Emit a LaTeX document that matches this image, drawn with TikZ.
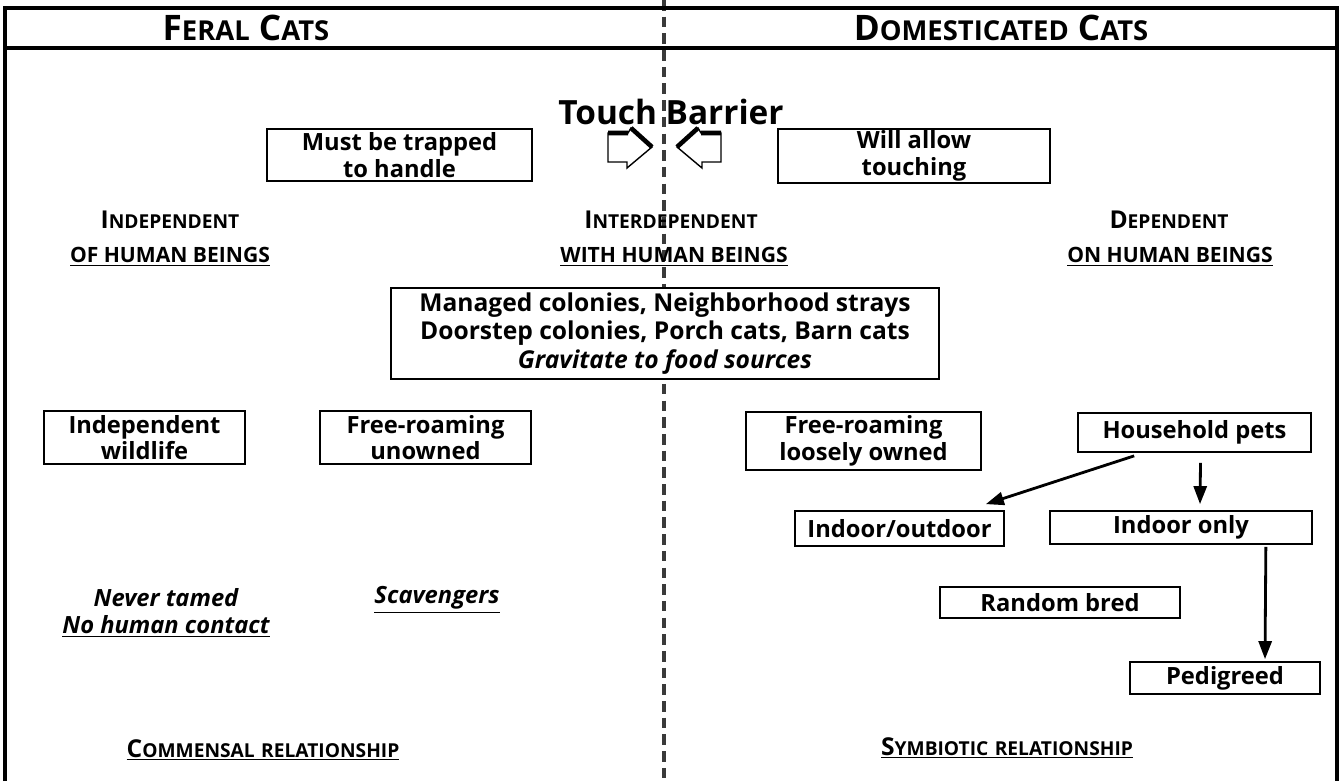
\documentclass[tikz,border=0pt]{standalone}
\usepackage{fontspec}
\setmainfont{Open Sans}
\usepackage{graphicx}
\usetikzlibrary{arrows.meta,calc,positioning}
\definecolor{ink}{HTML}{000000}
\definecolor{divider}{HTML}{3A3A3A}
% fake small caps: big first letter, scaled rest
\newcommand{\smc}[2]{#1\scalebox{0.78}{#2}}
\tikzset{
    % Outer frame
    frame line/.style={line width=2pt, draw=ink},
    % Boxed categories
    catbox/.style={
        rectangle,
        draw=ink,
        fill=white,
        line width=1pt,
        inner sep=0pt,
        align=center,
        font=\fontsize{13.5}{15}\selectfont\bfseries
    },
    % Column titles in the header row
    title text/.style={font=\fontsize{20}{22}\selectfont\bfseries},
    % Relation headings
    relation/.style={font=\fontsize{14}{16}\selectfont\bfseries},
    relation sub/.style={font=\fontsize{12}{14}\selectfont\bfseries},
    % Italic notes
    note text/.style={font=\fontsize{13.5}{15.5}\selectfont\bfseries\itshape, align=center},
    % Connectors
    flow/.style={-{Triangle[length=3.6mm, width=2.6mm]}, line width=1.6pt, draw=ink},
    % Dashed split line
    barrier/.style={draw=divider, line width=1.8pt, dash pattern=on 6pt off 3.5pt},
    % Block arrows at the touch barrier
    block arrow/.style={draw=ink, fill=white, line width=0.8pt, line join=miter},
    block edge/.style={draw=ink, line width=2.6pt}
}
\begin{document}
\begin{tikzpicture}[x=0.02cm, y=-0.02cm]
    \useasboundingbox (0,0) rectangle (1341,781);

    % Dashed barrier down the middle
    \coordinate (bartop) at (664,0);
    \coordinate (barbot) at (664,781);
    \draw[barrier] (bartop) -- (barbot);

    % Frame and header row
    \draw[frame line] (5,781) -- (5,8) -- (1337,8) -- (1337,781);
    \draw[frame line] (5,48) -- (1337,48);
    \node[title text] (feral) at (246,28) {\smc{F}{ERAL} \smc{C}{ATS}};
    \node[title text] (domestic) at (1001,28) {\smc{D}{OMESTICATED} \smc{C}{ATS}};

    % Touch barrier
    \node[font=\fontsize{19}{22}\selectfont\bfseries] (touch) at (671,112) {Touch Barrier};
    \node[catbox, minimum width=5.3cm, minimum height=1.04cm] (trapped) at (399.5,155) {Must be trapped\\to handle};
    \node[catbox, minimum width=5.44cm, minimum height=1.08cm] (allow) at (914,156) {Will allow\\touching};
    \draw[block arrow] (608,133) -- (628,133) -- (631,128) -- (652,147) -- (627,168) -- (627,162) -- (608,162) -- cycle;
    \draw[block edge] (608,133) -- (628,133) (631,128) -- (652,147);
    \draw[block arrow] (721,133) -- (701,133) -- (698,128) -- (677,147) -- (702,168) -- (702,162) -- (721,162) -- cycle;
    \draw[block edge] (721,133) -- (701,133) (698,128) -- (677,147);

    % Relation to human beings
    \node[relation] (indep) at (170,220) {\smc{I}{NDEPENDENT}};
    \node[relation sub] (indepsub) at (170,257) {\underline{OF\ HUMAN\ BEINGS}};
    \node[relation] (inter) at (671,220) {\smc{I}{NTERDEPENDENT}};
    \node[relation sub] (intersub) at (674,257) {\underline{WITH\ HUMAN\ BEINGS}};
    \node[relation] (dep) at (1169,220) {\smc{D}{EPENDENT}};
    \node[relation sub] (depsub) at (1170,257) {\underline{ON\ HUMAN\ BEINGS}};

    \node[catbox, minimum width=10.96cm, minimum height=1.82cm, font=\fontsize{14}{16}\selectfont\bfseries] (colonies) at (665,333.5)
        {Managed colonies, Neighborhood strays\\Doorstep colonies, Porch cats, Barn cats\\\textit{Gravitate to food sources}};

    % Feral side
    \node[catbox, minimum width=4.02cm, minimum height=1.06cm] (wild) at (144.5,437.5) {Independent\\wildlife};
    \node[catbox, minimum width=4.22cm, minimum height=1.06cm] (unowned) at (425.5,437.5) {Free-roaming\\unowned};
    \node[note text] (tamed) at (166,613) {Never tamed\\\underline{No human contact}};
    \node[note text] (scav) at (437,600) {\underline{Scavengers}};

    % Domesticated side
    \node[catbox, minimum width=4.7cm, minimum height=1.16cm] (loose) at (863.5,441) {Free-roaming\\loosely owned};
    \node[catbox, minimum width=4.66cm, minimum height=0.78cm] (pets) at (1194.5,432.5) {Household pets};
    \node[catbox, minimum width=4.18cm, minimum height=0.7cm] (inout) at (899.5,528.5) {Indoor/outdoor};
    \node[catbox, minimum width=5.24cm, minimum height=0.66cm] (indoor) at (1181,527.5) {Indoor only};
    \node[catbox, minimum width=4.8cm, minimum height=0.62cm] (random) at (1060,602.5) {Random bred};
    \node[catbox, minimum width=3.8cm, minimum height=0.64cm] (pedigree) at (1225,678) {Pedigreed};

    \draw[flow] ($(pets.south west)+(57,3)$) -- ($(inout.north east)+(-19,-6)$);
    \draw[flow] ($(pets.south)+(6,10)$) -- ($(indoor.north)+(19,-6)$);
    \draw[flow] ($(indoor.south east)+(-47,2)$) -- ($(pedigree.north)+(40,-2)$);

    % Relationships
    \node[relation] (commensal) at (263,750) {\underline{\smc{C}{OMMENSAL} \smc{}{RELATIONSHIP}}};
    \node[relation] (symbiotic) at (1007,748) {\underline{\smc{S}{YMBIOTIC} \smc{}{RELATIONSHIP}}};
\end{tikzpicture}
\end{document}
